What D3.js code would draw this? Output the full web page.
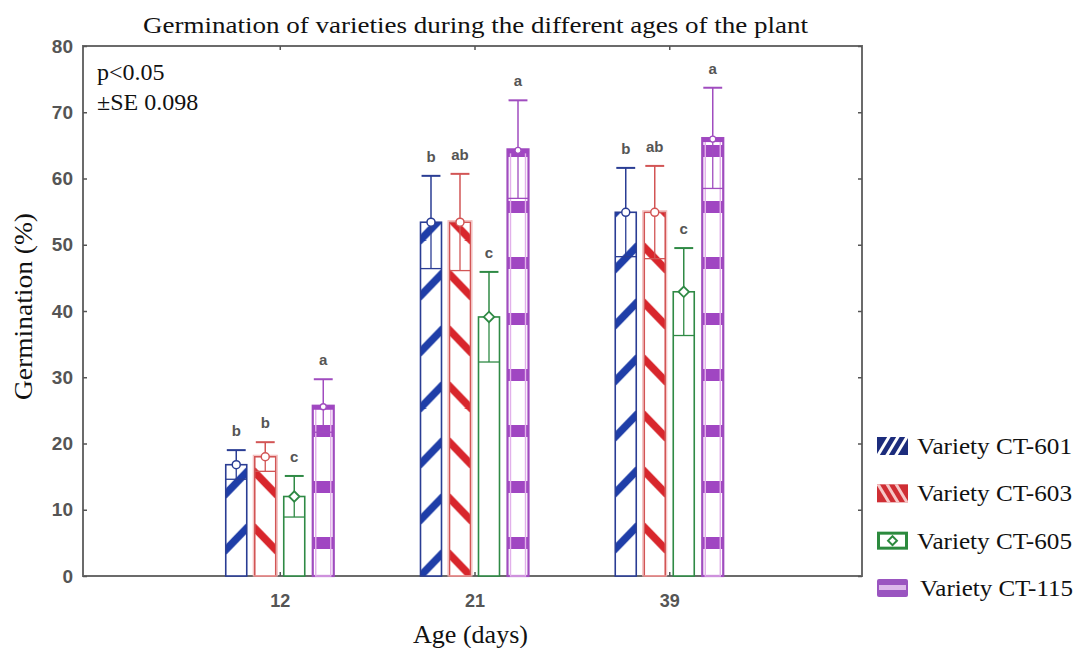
<!DOCTYPE html>
<html>
<head>
<meta charset="utf-8">
<script src="https://cdn.jsdelivr.net/npm/d3@7"></script>
<style>
  html, body { margin: 0; padding: 0; background: #fff; }
  svg { display: block; }
  .serif { font-family: "Liberation Serif", "Times New Roman", serif; fill: #111; }
  .sans { font-family: "Liberation Sans", Arial, sans-serif; }
</style>
</head>
<body>
<svg id="chart" width="1078" height="648"></svg>
<script>
// ---------- data ----------
const ages = ["12", "21", "39"];
const seriesNames = ["Variety CT-601", "Variety CT-603", "Variety CT-605", "Variety CT-115"];
const ct601 = [16.8, 53.4, 54.9];
const ct603 = [18.0, 53.4, 54.9];
const ct605 = [12.0, 39.1, 42.9];
const ct115 = [25.7, 64.4, 66.1];
const se601 = [2.2, 7.0, 6.7];
const se603 = [2.2, 7.3, 7.0];
const se605 = [3.1, 6.8, 6.6];
const se115 = [4.0, 7.4, 7.6];
const letters601 = ["b", "b", "b"];
const letters603 = ["b", "ab", "ab"];
const letters605 = ["c", "c", "c"];
const letters115 = ["a", "a", "a"];
const yTicks = [0, 10, 20, 30, 40, 50, 60, 70, 80];
const titleText = "Germination of varieties during the different ages of the plant";
const xTitle = "Age (days)";
const yTitle = "Germination (%)";
const notes = ["p<0.05", "\u00B1SE 0.098"];

// ---------- setup ----------
const svg = d3.select("#chart");
const L = 83, R = 862, T = 46, B = 576;
const y = d3.scaleLinear().domain([0, 80]).range([B, T]);
const x0 = d3.scalePoint().domain(ages).range([85, 864]).padding(1);
const x1 = d3.scaleBand().domain(seriesNames).range([-54, 54]).paddingInner(0.276);
const bw = x1.bandwidth();

const style = {
  "Variety CT-601": { stroke: "#2a3d94", fill: "#1f3ea8", kind: "fwd", marker: "circle" },
  "Variety CT-603": { stroke: "#d25555", fill: "#d8262c", kind: "back", marker: "circle" },
  "Variety CT-605": { stroke: "#2f8a45", fill: "none", kind: "none", marker: "diamond" },
  "Variety CT-115": { stroke: "#a04cbf", fill: "#a046c2", kind: "hband", marker: "small" }
};
// stripe phase (px above the baseline) per age group, as drawn in the source
const stripePhase = { "12": 37, "21": 11, "39": 38 };

const vals = [ct601, ct603, ct605, ct115];
const ses = [se601, se603, se605, se115];
const lets = [letters601, letters603, letters605, letters115];
const bars = [];
seriesNames.forEach((s, si) => {
  ages.forEach((a, ai) => {
    bars.push({ s, si, a, v: vals[si][ai], se: ses[si][ai], letter: lets[si][ai] });
  });
});

const defs = svg.append("defs");
const period = 56;

bars.forEach((d, i) => {
  const st = style[d.s];
  if (st.kind === "none") return;
  const bx = x0(d.a) + x1(d.s);
  const p = defs.append("pattern")
    .attr("id", "pat" + i)
    .attr("patternUnits", "userSpaceOnUse")
    .attr("x", bx).attr("y", y(0))
    .attr("width", bw).attr("height", period);
  p.append("rect").attr("width", bw).attr("height", period).attr("fill", "#fff");
  [-period, 0, period].forEach(off => {
    if (st.kind === "fwd") {
      const c = period - stripePhase[d.a] + off;
      p.append("line").attr("x1", -2).attr("y1", c + 13).attr("x2", bw + 2).attr("y2", c - 13)
        .attr("stroke", st.fill).attr("stroke-width", 7.5);
    } else if (st.kind === "back") {
      const c = period - stripePhase[d.a] + off;
      p.append("line").attr("x1", -2).attr("y1", c - 13).attr("x2", bw + 2).attr("y2", c + 13)
        .attr("stroke", st.fill).attr("stroke-width", 7.5);
    } else if (st.kind === "hband") {
      const c = period - 33 + off;
      p.append("rect").attr("x", 0).attr("y", c - 6).attr("width", bw).attr("height", 12)
        .attr("fill", st.fill);
    }
  });
});

// frame
svg.append("rect").attr("x", L).attr("y", T).attr("width", R - L).attr("height", B - T)
  .attr("fill", "none").attr("stroke", "#6b6b6b").attr("stroke-width", 2);

// axes
const yAxis = d3.axisLeft(y).tickValues(yTicks).tickSizeInner(-4).tickSizeOuter(0).tickPadding(10);
const gy = svg.append("g").attr("transform", `translate(${L},0)`).call(yAxis);
gy.select(".domain").remove();
gy.selectAll(".tick line").attr("stroke", "#555").attr("stroke-width", 1.5);
gy.selectAll(".tick text").attr("class", "sans").attr("font-size", 19).attr("font-weight", "bold")
  .attr("fill", "#555");

const gyr = svg.append("g").attr("transform", `translate(${R},0)`)
  .call(d3.axisRight(y).tickValues(yTicks).tickSizeInner(-4).tickSizeOuter(0).tickFormat(""));
gyr.select(".domain").remove();
gyr.selectAll(".tick line").attr("stroke", "#555").attr("stroke-width", 1.5);

const xAxis = d3.axisBottom(x0).tickSizeInner(-4).tickSizeOuter(0).tickPadding(18);
const gx = svg.append("g").attr("transform", `translate(0,${B})`).call(xAxis);
gx.select(".domain").remove();
gx.selectAll(".tick line").attr("stroke", "#555").attr("stroke-width", 1.5);
gx.selectAll(".tick text").attr("class", "sans").attr("font-size", 18).attr("font-weight", "bold")
  .attr("fill", "#555");

const gxt = svg.append("g").attr("transform", `translate(0,${T})`)
  .call(d3.axisTop(x0).tickSizeInner(-4).tickSizeOuter(0).tickFormat(""));
gxt.select(".domain").remove();
gxt.selectAll(".tick line").attr("stroke", "#555").attr("stroke-width", 1.5);

// bars
const gBars = svg.append("g");
bars.forEach((d, i) => {
  const st = style[d.s];
  const bx = x0(d.a) + x1(d.s);
  const cx = bx + bw / 2;
  const top = y(d.v);
  const g = gBars.append("g");
  g.append("rect").attr("x", bx).attr("y", top).attr("width", bw).attr("height", y(0) - top)
    .attr("fill", st.kind === "none" ? "#fff" : `url(#pat${i})`)
    .attr("stroke", st.stroke).attr("stroke-width", st.kind === "hband" ? 2.2 : 1.6);
  if (st.kind === "hband") {
    g.append("rect").attr("x", bx + 3).attr("y", top + 3).attr("width", bw - 6)
      .attr("height", Math.max(0, y(0) - top - 3))
      .attr("fill", "none").attr("stroke", "#e2b0ea").attr("stroke-width", 1.4);
    g.append("rect").attr("x", bx).attr("y", top).attr("width", bw).attr("height", 4)
      .attr("fill", st.fill);
  }
  if (st.kind === "back") {
    g.append("rect").attr("x", bx - 1.5).attr("y", top - 1.5).attr("width", bw + 3).attr("height", y(0) - top + 1.5)
      .attr("fill", "none").attr("stroke", "#f2b4b4").attr("stroke-width", 1);
  }
  // inner lower whisker
  const lo = y(d.v - d.se);
  g.append("line").attr("x1", cx).attr("x2", cx).attr("y1", top).attr("y2", lo)
    .attr("stroke", st.stroke).attr("stroke-width", 1.3);
  g.append("line").attr("x1", bx).attr("x2", bx + bw).attr("y1", lo).attr("y2", lo)
    .attr("stroke", st.stroke).attr("stroke-width", 1.3);
  // upper error bar
  const hi = y(d.v + d.se);
  g.append("line").attr("x1", cx).attr("x2", cx).attr("y1", top).attr("y2", hi)
    .attr("stroke", st.stroke).attr("stroke-width", 1.5);
  g.append("line").attr("x1", cx - bw * 0.45).attr("x2", cx + bw * 0.45).attr("y1", hi).attr("y2", hi)
    .attr("stroke", st.stroke).attr("stroke-width", 2);
  // mean marker
  if (st.marker === "circle") {
    g.append("circle").attr("cx", cx).attr("cy", top).attr("r", 4)
      .attr("fill", "#fff").attr("stroke", st.stroke).attr("stroke-width", 1.5);
  } else if (st.marker === "diamond") {
    g.append("path").attr("d", d3.symbol(d3.symbolDiamond2, 70)())
      .attr("transform", `translate(${cx},${top})`)
      .attr("fill", "#fff").attr("stroke", st.stroke).attr("stroke-width", 1.8);
  } else {
    g.append("circle").attr("cx", cx).attr("cy", top + 1).attr("r", 3)
      .attr("fill", "#fff").attr("stroke", st.stroke).attr("stroke-width", 1.3);
  }
  // letter
  g.append("text").attr("class", "sans").attr("x", cx).attr("y", hi - 14)
    .attr("text-anchor", "middle").attr("font-size", 15).attr("font-weight", "bold")
    .attr("fill", "#555").text(d.letter);
});

// titles
svg.append("text").attr("class", "serif").attr("x", 143).attr("y", 33)
  .attr("font-size", 24).attr("textLength", 665).attr("lengthAdjust", "spacingAndGlyphs")
  .text(titleText);
svg.append("text").attr("class", "serif").attr("x", 413).attr("y", 643)
  .attr("font-size", 25).attr("textLength", 115).attr("lengthAdjust", "spacingAndGlyphs")
  .text(xTitle);
svg.append("text").attr("class", "serif")
  .attr("transform", `translate(32,400) rotate(-90)`)
  .attr("font-size", 26).attr("textLength", 187).attr("lengthAdjust", "spacingAndGlyphs")
  .text(yTitle);
notes.forEach((t, i) => {
  svg.append("text").attr("class", "serif").attr("x", 97).attr("y", 80 + i * 30)
    .attr("font-size", 24).text(t);
});

// legend
const legY = d3.scalePoint().domain(seriesNames).range([446, 588]);
const lg = svg.append("g");
seriesNames.forEach((s, i) => {
  const st = style[s];
  const cy = legY(s);
  const sx = 877, sw = 31, sh = 18, sy = cy - sh / 2;
  const g = lg.append("g");
  if (st.kind === "fwd" || st.kind === "back") {
    const dark = st.kind === "fwd" ? "#1c2c7c" : "#cf2e34";
    const cid = "lclip" + i;
    defs.append("clipPath").attr("id", cid).append("rect").attr("x", sx).attr("y", sy).attr("width", sw).attr("height", sh);
    g.append("rect").attr("x", sx).attr("y", sy).attr("width", sw).attr("height", sh).attr("fill", dark);
    const gg = g.append("g").attr("clip-path", `url(#${cid})`);
    [-9, 0, 9].forEach(o => {
      const mx = sx + sw / 2 + o;
      if (st.kind === "fwd") {
        gg.append("line").attr("x1", mx - 6).attr("y1", sy + sh + 1).attr("x2", mx + 6).attr("y2", sy - 1)
          .attr("stroke", "#fff").attr("stroke-width", 3);
      } else {
        gg.append("line").attr("x1", mx - 6).attr("y1", sy - 1).attr("x2", mx + 6).attr("y2", sy + sh + 1)
          .attr("stroke", "#f6c8c8").attr("stroke-width", 3);
      }
    });
  } else if (st.kind === "none") {
    g.append("rect").attr("x", sx + 1.5).attr("y", sy + 1.5).attr("width", sw - 3).attr("height", sh - 3)
      .attr("fill", "#fff").attr("stroke", "#2c8a3e").attr("stroke-width", 3);
    g.append("path").attr("d", d3.symbol(d3.symbolDiamond2, 50)())
      .attr("transform", `translate(${sx + sw / 2},${cy})`)
      .attr("fill", "#fff").attr("stroke", "#2c8a3e").attr("stroke-width", 2);
  } else {
    g.append("rect").attr("x", sx).attr("y", sy).attr("width", sw).attr("height", sh).attr("rx", 2)
      .attr("fill", "#9a55c0");
    g.append("rect").attr("x", sx + 2).attr("y", cy - 3).attr("width", sw - 4).attr("height", 5)
      .attr("fill", "#dcb8ea");
  }
  g.append("text").attr("class", "serif").attr("x", i === 3 ? 920 : 917).attr("y", cy + 8)
    .attr("font-size", 23).attr("textLength", i === 3 ? 153 : 155).attr("lengthAdjust", "spacingAndGlyphs")
    .text(s);
});
</script>
</body>
</html>
